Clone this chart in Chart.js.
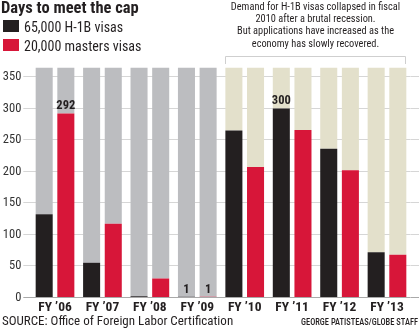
<!DOCTYPE html>
<html>
<head>
<meta charset="utf-8">
<script src="https://cdn.jsdelivr.net/npm/chart.js@4"></script>
<style>
  html, body { margin: 0; padding: 0; background: #fff; }
  #wrap { position: relative; width: 419px; height: 336px; }
</style>
</head>
<body>
<div id="wrap"><canvas id="cap-chart"></canvas></div>
<script>
/* ── Days to meet the H-1B cap ── */

const years = ['FY ’06', 'FY ’07', 'FY ’08', 'FY ’09', 'FY ’10', 'FY ’11', 'FY ’12', 'FY ’13'];
const h1bDays = [132, 55, 2, 1, 265, 300, 236, 72];
const mastersDays = [292, 117, 30, 1, 207, 266, 202, 68];
const yTicks = [0, 50, 100, 150, 200, 250, 300, 350];
const yearLength = 365;

const titleText = 'Days to meet the cap';
const legendItems = [
    { label: '65,000 H-1B visas', color: '#231f20' },
    { label: '20,000 masters visas', color: '#d71639' },
];
const noteLines = [
    'Demand for H-1B visas collapsed in fiscal',
    '2010 after a brutal recession.',
    'But applications have increased as the',
    'economy has slowly recovered.',
];
const sourceText = 'SOURCE: Office of Foreign Labor Certification';
const creditText = 'GEORGE PATISTEAS/GLOBE STAFF';

const COND = "'Roboto Condensed', 'Open Sans', sans-serif";
const INK = '#231f20';
const GRAY = '#bcbdc0';
const BEIGE = '#e3e0cb';
const restColors = years.map((_, i) => (i < 4 ? GRAY : BEIGE));

// days left in the fiscal year after the cap was hit, stacked on top of each bar
const restOf = vals => vals.map(v => yearLength - v);

const barOpts = { categoryPercentage: 0.913, barPercentage: 0.787, borderWidth: 0 };

// Title, legend, note, value labels and footer
const decorations = {
    id: 'decorations',
    afterDatasetsDraw(chart) {
        const ctx = chart.ctx;
        ctx.save();

        ctx.fillStyle = INK;
        ctx.textAlign = 'left';
        ctx.textBaseline = 'alphabetic';
        ctx.font = 'bold 16.5px ' + COND;
        ctx.fillText(titleText, 1, 13);

        ctx.font = '14px ' + COND;
        legendItems.forEach((it, i) => {
            const y = 20 + i * 19;
            ctx.fillStyle = it.color;
            ctx.fillRect(3, y, 16, 12);
            ctx.fillStyle = INK;
            ctx.fillText(it.label, 24, y + 11.5);
        });

        // note over the recovery years, squeezed a little narrower
        ctx.save();
        ctx.translate(315.5, 0);
        ctx.scale(0.9, 1);
        ctx.textAlign = 'center';
        ctx.font = '11.5px ' + COND;
        noteLines.forEach((line, i) => ctx.fillText(line, 0, 10 + i * 12.2));
        ctx.restore();

        // bracket over FY '10 – FY '13
        const blk = chart.getDatasetMeta(0).data;
        const red = chart.getDatasetMeta(1).data;
        const x0 = Math.round(blk[4].x - blk[4].width / 2);
        const x1 = Math.round(red[7].x + red[7].width / 2);
        ctx.strokeStyle = '#cfcfcf';
        ctx.lineWidth = 1;
        ctx.beginPath();
        ctx.moveTo(x0 + 0.5, 64);
        ctx.lineTo(x0 + 0.5, 56.5);
        ctx.lineTo(x1 - 0.5, 56.5);
        ctx.lineTo(x1 - 0.5, 64);
        ctx.stroke();

        // value labels: each series' peak and the one-day years
        ctx.textAlign = 'center';
        ctx.font = 'bold 12.5px ' + COND;
        ctx.fillStyle = INK;
        ctx.textBaseline = 'bottom';
        [h1bDays, mastersDays].forEach((vals, d) => {
            const top = Math.max(...vals);
            const els = chart.getDatasetMeta(d).data;
            vals.forEach((v, i) => {
                if (v === top || v === 1) ctx.fillText(String(v), els[i].x, els[i].y - 1);
            });
        });

        // footer
        ctx.textBaseline = 'alphabetic';
        ctx.textAlign = 'left';
        ctx.font = '13px ' + COND;
        ctx.fillText(sourceText, 2, 325);
        ctx.textAlign = 'right';
        ctx.font = '500 9.5px ' + COND;
        ctx.fillText(creditText, 418, 325, 117);

        ctx.restore();
    },
};

const gridColor = c => (c.tick && c.tick.value === 0 ? '#a9a9a9' : '#d6d6d6');
const setTicks = s => { s.ticks = yTicks.map(value => ({ value })); };

new Chart(document.getElementById('cap-chart'), {
    type: 'bar',
    data: {
        labels: years,
        datasets: [
            { label: legendItems[0].label, data: h1bDays, backgroundColor: INK, stack: 'h1b', ...barOpts },
            { label: legendItems[1].label, data: mastersDays, backgroundColor: legendItems[1].color, stack: 'masters', ...barOpts },
            { label: 'rest', data: restOf(h1bDays), backgroundColor: restColors, stack: 'h1b', ...barOpts },
            { label: 'rest', data: restOf(mastersDays), backgroundColor: restColors, stack: 'masters', ...barOpts },
        ],
    },
    options: {
        responsive: true,
        maintainAspectRatio: false,
        animation: false,
        layout: { padding: { top: 67.5, left: 2, right: 0, bottom: 0 } },
        plugins: { legend: { display: false }, tooltip: { enabled: false } },
        scales: {
            x: {
                stacked: true,
                offset: true,
                grid: { display: false, drawTicks: false },
                border: { display: false },
                ticks: { color: INK, padding: 2, maxRotation: 0, font: { family: COND, size: 13.5, weight: 'bold' } },
                afterFit: s => { s.height = 38.5; },
            },
            y: {
                stacked: true,
                min: 0,
                max: yearLength,
                afterBuildTicks: setTicks,
                ticks: { color: '#333', padding: 2, font: { family: COND, size: 12.5 } },
                grid: { color: gridColor, lineWidth: 1, tickLength: 8, tickColor: gridColor },
                border: { display: false },
                afterFit: s => { s.width = 29.3; },
            },
            y2: {
                position: 'right',
                min: 0,
                max: yearLength,
                afterBuildTicks: setTicks,
                ticks: { display: false },
                grid: { drawOnChartArea: false, tickLength: 8.3, tickColor: gridColor, lineWidth: 1 },
                border: { display: false },
                afterFit: s => { s.width = 8.3; },
            },
        },
    },
    plugins: [decorations],
});
</script>
</body>
</html>
